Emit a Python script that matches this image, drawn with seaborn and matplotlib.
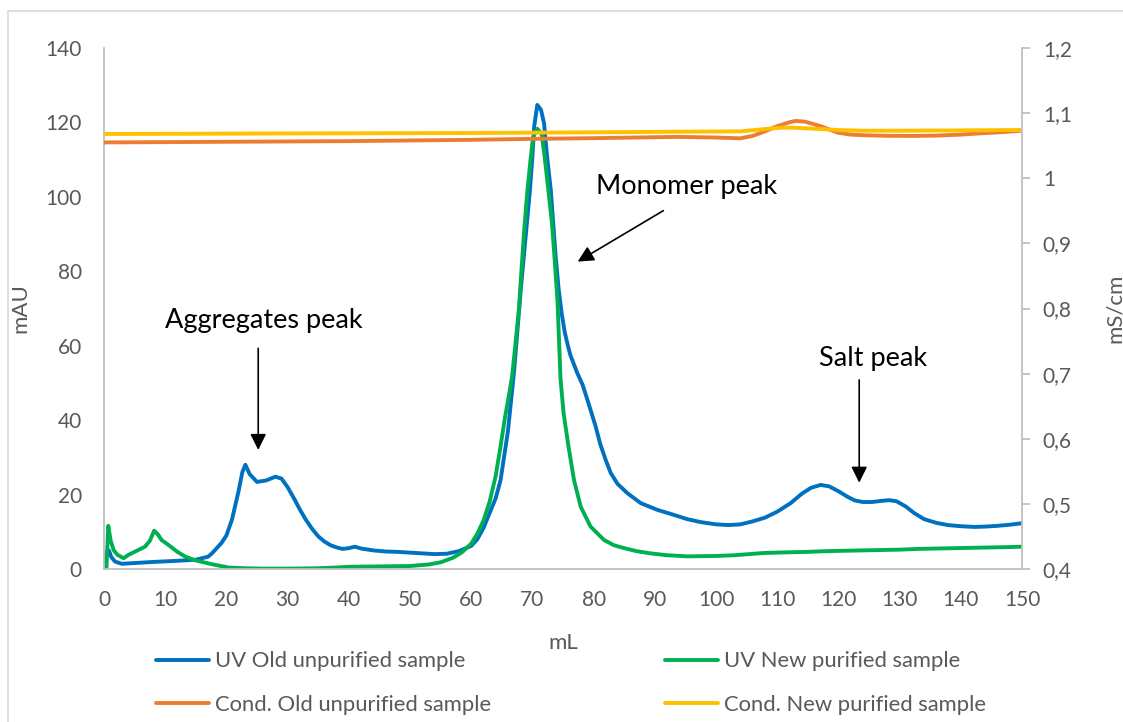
import matplotlib
matplotlib.use("Agg")
import matplotlib.pyplot as plt
import seaborn as sns
from matplotlib.ticker import FuncFormatter
from matplotlib.patches import Rectangle
from matplotlib.lines import Line2D

# ---------------- data ----------------
uv_old_x = [0, 0.5, 0.8, 1.2, 1.8, 2.9, 5, 8, 9.4, 12, 15, 17, 17.7, 19.2, 20, 20.9, 22, 22.6, 23.1,
            23.8, 25, 26.5, 28, 29, 30, 31.2, 32, 33, 34, 35, 36, 37, 38, 39, 40, 41, 42, 44, 46,
            48, 50, 52, 54, 56, 58, 60, 61, 62, 63, 64, 64.8, 66, 67, 68.1, 68.6, 69.1, 69.6, 70.0,
            70.3, 70.8, 71.4, 71.9, 72.4, 73.0, 73.4, 73.8, 74.3, 74.8, 75.3, 75.8, 76.2, 77.3,
            78.2, 79, 80.3, 81.1, 82.0, 82.8, 83.9, 85.5, 87.7, 90.4, 93, 95.3, 97.5, 100, 102, 104,
            106, 108, 110, 112.2, 114, 115.5, 117.1, 118.5, 120, 121.5, 122.7, 124, 125.5, 127,
            128.3, 129.5, 131, 132.4, 134, 136, 137.9, 140, 142.2, 144, 146, 148, 150]
uv_old_y = [0, 4.7, 5.0, 3.2, 2.0, 1.4, 1.6, 1.9, 2.0, 2.2, 2.5, 3.3, 4.3, 7.0, 9.0, 13.2, 21, 26,
            28.0, 25.5, 23.4, 23.8, 24.8, 24.3, 22.0, 18.5, 16.0, 13.2, 10.8, 8.8, 7.4, 6.4, 5.8,
            5.4, 5.6, 6.0, 5.5, 5.0, 4.7, 4.6, 4.4, 4.2, 4.0, 4.1, 4.8, 6.2, 8.0, 11, 15, 19,
            23.9, 37, 53, 75, 84, 92.9, 101.9, 110.8, 119, 124.7, 123.4, 119.8, 110.8, 101.9, 92.9,
            84, 75, 68.5, 63.5, 60, 57.5, 52.8, 49.5, 45.4, 38.5, 33.5, 29.2, 25.8, 22.9, 20.4,
            17.7, 15.9, 14.6, 13.4, 12.6, 12.0, 11.8, 12.0, 12.8, 13.8, 15.4, 17.7, 20.2, 21.8,
            22.6, 22.2, 20.9, 19.4, 18.4, 18.0, 18.0, 18.3, 18.5, 18.2, 16.8, 15.0, 13.4,
            12.4, 11.8, 11.5, 11.3, 11.4, 11.6, 11.9, 12.3]

uv_new_x = [0, 0.4, 0.7, 1.1, 1.6, 2.2, 3.2, 4, 5.6, 6.7, 7.5, 8.2, 8.8, 9.4, 10.5, 12, 13.3, 15,
            17.6, 20.3, 23, 26, 30, 35, 38, 40, 45, 50, 53, 55, 57, 58.5, 60, 61, 62, 63, 64, 64.8,
            65.5, 66.2, 66.7, 67.2, 67.8, 68.2, 68.7, 69.2, 69.7, 70.1, 70.8, 71.5, 72.0, 72.6,
            73.2, 73.6, 74.1, 74.6, 75.1, 75.9, 76.8, 77.9, 79.5, 81.7, 83.3, 85, 87, 89.3, 92,
            95.3, 100, 103, 107.8, 112, 115, 118, 121, 124, 127, 130, 133, 136, 139, 142, 145, 148,
            150]
uv_new_y = [0, 0.5, 11.6, 7.5, 5.0, 3.8, 2.9, 3.8, 5.1, 6.0, 7.6, 10.3, 9.3, 7.8, 6.5, 4.6, 3.3,
            2.3, 1.3, 0.4, 0.2, 0.1, 0.1, 0.2, 0.4, 0.6, 0.7, 0.8, 1.2, 1.8, 3.0, 4.5, 6.8, 9.5,
            13, 18, 25, 33, 40.5, 47, 52, 60, 70, 80, 92, 102, 110, 116, 118.3, 117, 110.8,
            101.9, 92.9, 84, 72, 51, 41.8, 32.9, 23.9, 16.7, 11.4, 7.8, 6.4, 5.6, 4.8, 4.2, 3.7,
            3.4, 3.5, 3.7, 4.3, 4.5, 4.6, 4.8, 4.9, 5.0, 5.1, 5.2, 5.4, 5.5, 5.6, 5.7, 5.8, 5.9,
            6.0]

cond_old_x = [0, 10, 20, 30, 40, 50, 60, 70, 80, 90, 94, 100, 104, 106, 108, 110, 112, 113, 114.5,
              116, 117.1, 118.5, 119.9, 122, 124.2, 128, 132.4, 136, 140, 143.3, 147, 150]
cond_old_y = [1.055, 1.0555, 1.056, 1.0565, 1.057, 1.058, 1.059, 1.0605, 1.0615, 1.063, 1.0635,
              1.0625, 1.0613, 1.065, 1.072, 1.080, 1.086, 1.088, 1.087, 1.083, 1.080, 1.075,
              1.070, 1.067, 1.066, 1.0652, 1.065, 1.0655, 1.067, 1.069, 1.071, 1.073]

cond_new_x = [0, 20, 40, 60, 70, 80, 94.2, 104, 108, 110.8, 113, 117, 120, 124, 130, 140, 150]
cond_new_y = [1.068, 1.0685, 1.069, 1.0695, 1.070, 1.0705, 1.0715, 1.072, 1.0755, 1.0777, 1.0775,
              1.0756, 1.074, 1.073, 1.073, 1.0735, 1.0741]

x_ticks = list(range(0, 151, 10))
left_ticks = list(range(0, 141, 20))
right_ticks = [0.4, 0.5, 0.6, 0.7, 0.8, 0.9, 1.0, 1.1, 1.2]

labels = ["UV Old unpurified sample", "UV New purified sample",
          "Cond. Old unpurified sample", "Cond. New purified sample"]
colors = ["#0070C0", "#00B050", "#ED7D31", "#FFC000"]

# ---------------- style ----------------
sns.set_style("white")
plt.rcParams['font.family'] = ['Lato', 'DejaVu Sans']

W, H = 1123, 722
fig = plt.figure(figsize=(W / 100, H / 100), dpi=100)
L, R, T, B = 104, 1022, 48, 569
ax = fig.add_axes([L / W, (H - B) / H, (R - L) / W, (B - T) / H])
ax2 = ax.twinx()

lw = 2.8
kw = dict(linewidth=lw, legend=False, estimator=None, sort=False)
sns.lineplot(x=uv_old_x, y=uv_old_y, ax=ax, color=colors[0], **kw)
sns.lineplot(x=uv_new_x, y=uv_new_y, ax=ax, color=colors[1], **kw)
sns.lineplot(x=cond_old_x, y=cond_old_y, ax=ax2, color=colors[2], **kw)
sns.lineplot(x=cond_new_x, y=cond_new_y, ax=ax2, color=colors[3], **kw)
for a in (ax, ax2):
    for ln in a.get_lines():
        ln.set_solid_joinstyle('round')
        ln.set_solid_capstyle('round')

gray = "#BFBFBF"
tcol = "#595959"
ax.set_xlim(0, 150)
ax.set_ylim(0, 140)
ax2.set_ylim(0.4, 1.2)
ax.set_xticks(x_ticks)
ax.set_yticks(left_ticks)
ax2.set_yticks(right_ticks)
ax2.yaxis.set_major_formatter(FuncFormatter(lambda v, p: f"{v:g}".replace('.', ',')))

for a in (ax, ax2):
    for s in a.spines.values():
        s.set_visible(False)
ax.spines['left'].set_visible(True)
ax.spines['bottom'].set_visible(True)
ax2.spines['right'].set_visible(True)
for s in (ax.spines['left'], ax.spines['bottom'], ax2.spines['right']):
    s.set_color(gray)
    s.set_linewidth(1.3)

ax.tick_params(axis='x', length=0, pad=15, labelsize=15, labelcolor=tcol)
ax.tick_params(axis='y', length=0, pad=16, labelsize=15, labelcolor=tcol)
ax2.tick_params(axis='y', length=6, width=1.3, color=gray, pad=9, labelsize=15, labelcolor=tcol)
ax.grid(False)
ax2.grid(False)

ax.set_xlabel("mL", fontsize=16, color=tcol)
ax.set_ylabel("mAU", fontsize=16, color=tcol)
ax2.set_ylabel("mS/cm", fontsize=16, color=tcol)
ax.xaxis.set_label_coords(0.5, -(633 - B) / (B - T))
ax.yaxis.set_label_coords((30 - L) / (R - L), 0.5)
ax2.yaxis.set_label_coords((1105 - L) / (R - L), 0.5)

# ---------------- annotations ----------------
ap = dict(arrowstyle='-|>', color='black', lw=1.2, mutation_scale=24, shrinkA=0, shrinkB=0)
afs = 19.5
ax.text(26.1, 66.9, "Aggregates peak", fontsize=afs, ha='center', va='center', color='black')
ax.annotate("", xy=(25.2, 32.0), xytext=(25.2, 59.3), arrowprops=ap)
ax.text(95.2, 102.8, "Monomer peak", fontsize=afs, ha='center', va='center', color='black')
ax.annotate("", xy=(77.4, 82.6), xytext=(91.4, 96.3), arrowprops=ap)
ax.text(125.6, 56.6, "Salt peak", fontsize=afs, ha='center', va='center', color='black')
ax.annotate("", xy=(123.4, 23.2), xytext=(123.4, 50.8), arrowprops=ap)

# ---------------- legend ----------------
handles = [Line2D([], [], color=c, linewidth=lw) for c in colors]
legkw = dict(frameon=False, fontsize=15.8, handlelength=2.4, handletextpad=0.3,
             labelspacing=1.05, borderpad=0, borderaxespad=0, loc='center left',
             labelcolor=tcol)
fig.legend([handles[0], handles[2]], [labels[0], labels[2]],
           bbox_to_anchor=(156 / W, (H - 683) / H), **legkw)
fig.legend([handles[1], handles[3]], [labels[1], labels[3]],
           bbox_to_anchor=(665 / W, (H - 683) / H), **legkw)

# outer chart border
fig.patches.append(Rectangle((8 / W, -0.2), 1.2, (H - 11) / H + 0.2, transform=fig.transFigure,
                             fill=False, edgecolor="#D9D9D9", linewidth=1.2))

fig.savefig("out.png", dpi=100)
